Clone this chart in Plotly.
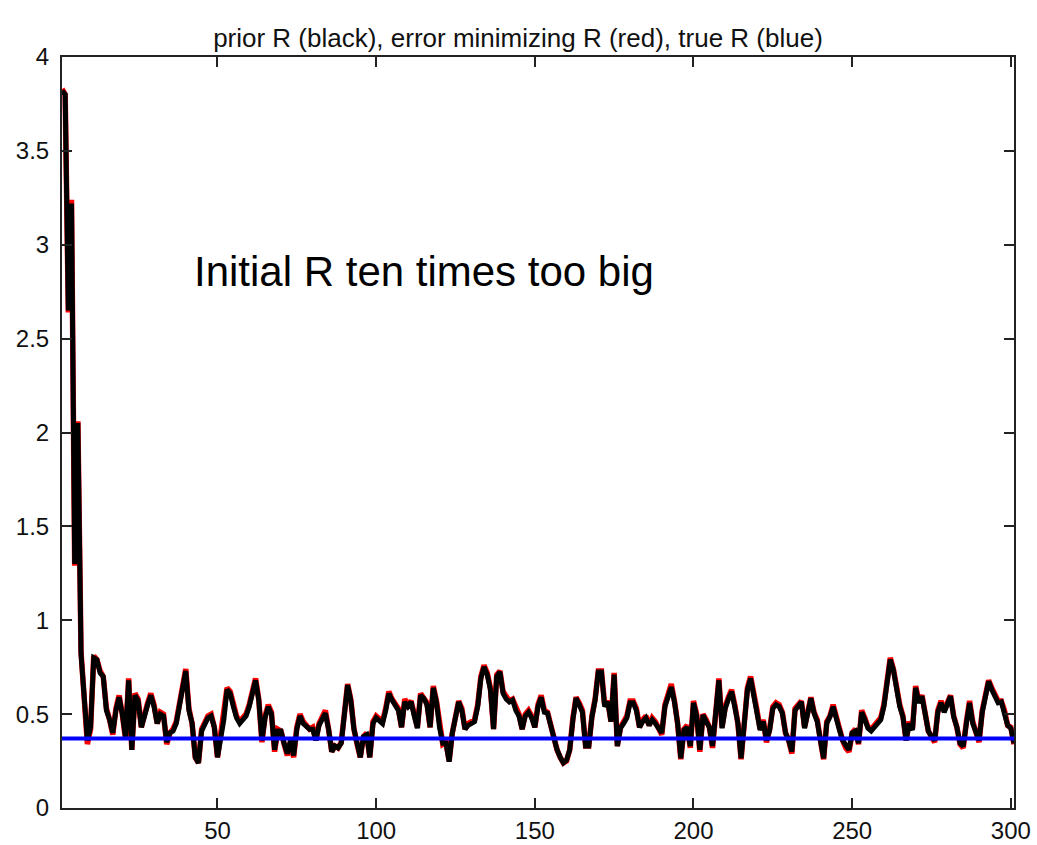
import plotly.graph_objects as go

# sample index
x_values = list(range(1, 302))

# prior R (black)
prior_R = [
    3.82, 3.80, 2.65, 3.22, 1.30, 2.05, 0.82, 0.54, 0.36, 0.43,
    0.80, 0.79, 0.72, 0.70, 0.52, 0.47, 0.40, 0.52, 0.59, 0.50,
    0.38, 0.68, 0.31, 0.60, 0.57, 0.43, 0.50, 0.55, 0.60, 0.54,
    0.45, 0.50, 0.49, 0.35, 0.40, 0.41, 0.45, 0.55, 0.64, 0.73,
    0.52, 0.45, 0.27, 0.24, 0.41, 0.45, 0.48, 0.49, 0.43, 0.27,
    0.38, 0.47, 0.63, 0.61, 0.54, 0.48, 0.45, 0.47, 0.49, 0.54,
    0.60, 0.68, 0.575, 0.36, 0.48, 0.54, 0.50, 0.31, 0.41, 0.41,
    0.345, 0.29, 0.36, 0.28, 0.42, 0.49, 0.45, 0.43, 0.42, 0.42,
    0.36, 0.44, 0.48, 0.505, 0.42, 0.30, 0.33, 0.32, 0.345, 0.505,
    0.655, 0.575, 0.42, 0.345, 0.27, 0.38, 0.39, 0.27, 0.45, 0.48,
    0.46, 0.45, 0.52, 0.61, 0.575, 0.55, 0.52, 0.43, 0.565, 0.54,
    0.565, 0.49, 0.425, 0.60, 0.585, 0.55, 0.43, 0.64, 0.565, 0.425,
    0.345, 0.345, 0.247, 0.40, 0.47, 0.565, 0.52, 0.42, 0.44, 0.45,
    0.46, 0.54, 0.69, 0.752, 0.71, 0.63, 0.42, 0.70, 0.725, 0.61,
    0.58, 0.565, 0.575, 0.52, 0.49, 0.42, 0.49, 0.51, 0.48, 0.43,
    0.54, 0.59, 0.51, 0.505, 0.44, 0.37, 0.31, 0.27, 0.24, 0.255,
    0.31, 0.47, 0.585, 0.55, 0.51, 0.33, 0.33, 0.485, 0.575, 0.725,
    0.725, 0.54, 0.565, 0.46, 0.71, 0.33, 0.425, 0.45, 0.48, 0.56,
    0.56, 0.52, 0.43, 0.46, 0.48, 0.44, 0.47, 0.45, 0.425, 0.40,
    0.54, 0.60, 0.645, 0.565, 0.45, 0.265, 0.415, 0.43, 0.33, 0.56,
    0.49, 0.31, 0.495, 0.46, 0.43, 0.33, 0.505, 0.68, 0.425, 0.53,
    0.58, 0.62, 0.54, 0.45, 0.265, 0.45, 0.63, 0.69, 0.585, 0.51,
    0.415, 0.46, 0.36, 0.415, 0.53, 0.55, 0.54, 0.505, 0.40, 0.36,
    0.30, 0.52, 0.54, 0.565, 0.425, 0.50, 0.585, 0.505, 0.46, 0.36,
    0.265, 0.45, 0.485, 0.54, 0.47, 0.415, 0.36, 0.33, 0.31, 0.40,
    0.41, 0.345, 0.51, 0.47, 0.425, 0.41, 0.43, 0.46, 0.47, 0.54,
    0.665, 0.79, 0.735, 0.63, 0.54, 0.485, 0.36, 0.45, 0.415, 0.64,
    0.56, 0.595, 0.505, 0.41, 0.38, 0.36, 0.51, 0.56, 0.51, 0.55,
    0.595, 0.485, 0.43, 0.345, 0.33, 0.45, 0.56, 0.45, 0.40, 0.36,
    0.51, 0.595, 0.675, 0.63, 0.59, 0.56, 0.565, 0.51, 0.44, 0.425,
    0.345,
]

# error minimizing R (red)
error_min_R = [
    3.83, 3.80, 2.64, 3.24, 1.29, 2.06, 0.83, 0.55, 0.34, 0.42,
    0.81, 0.79, 0.73, 0.70, 0.53, 0.47, 0.39, 0.53, 0.60, 0.50,
    0.37, 0.69, 0.31, 0.61, 0.58, 0.43, 0.51, 0.56, 0.61, 0.55,
    0.45, 0.51, 0.50, 0.34, 0.40, 0.42, 0.46, 0.56, 0.65, 0.74,
    0.53, 0.45, 0.27, 0.24, 0.42, 0.46, 0.49, 0.50, 0.43, 0.27,
    0.39, 0.48, 0.64, 0.62, 0.55, 0.49, 0.46, 0.48, 0.50, 0.55,
    0.61, 0.69, 0.58, 0.35, 0.49, 0.55, 0.51, 0.30, 0.42, 0.41,
    0.34, 0.28, 0.35, 0.27, 0.43, 0.50, 0.46, 0.44, 0.42, 0.43,
    0.36, 0.45, 0.49, 0.52, 0.42, 0.30, 0.33, 0.32, 0.35, 0.52,
    0.66, 0.58, 0.42, 0.34, 0.27, 0.38, 0.40, 0.27, 0.46, 0.49,
    0.47, 0.46, 0.53, 0.62, 0.58, 0.56, 0.53, 0.43, 0.58, 0.55,
    0.57, 0.50, 0.43, 0.61, 0.59, 0.56, 0.43, 0.65, 0.57, 0.43,
    0.34, 0.35, 0.25, 0.40, 0.48, 0.57, 0.53, 0.42, 0.45, 0.46,
    0.47, 0.55, 0.70, 0.76, 0.72, 0.64, 0.42, 0.71, 0.73, 0.62,
    0.59, 0.57, 0.58, 0.53, 0.50, 0.42, 0.50, 0.52, 0.49, 0.43,
    0.55, 0.60, 0.52, 0.51, 0.44, 0.37, 0.31, 0.27, 0.24, 0.25,
    0.31, 0.48, 0.59, 0.56, 0.52, 0.33, 0.33, 0.49, 0.58, 0.73,
    0.73, 0.55, 0.57, 0.46, 0.72, 0.33, 0.43, 0.46, 0.49, 0.57,
    0.57, 0.53, 0.43, 0.47, 0.49, 0.44, 0.48, 0.46, 0.43, 0.39,
    0.55, 0.61, 0.66, 0.57, 0.45, 0.26, 0.42, 0.44, 0.32, 0.57,
    0.50, 0.30, 0.50, 0.47, 0.43, 0.32, 0.51, 0.69, 0.43, 0.54,
    0.59, 0.63, 0.55, 0.45, 0.26, 0.46, 0.64, 0.70, 0.59, 0.52,
    0.42, 0.47, 0.35, 0.42, 0.54, 0.56, 0.55, 0.51, 0.40, 0.36,
    0.29, 0.53, 0.55, 0.57, 0.43, 0.51, 0.59, 0.51, 0.47, 0.36,
    0.26, 0.46, 0.49, 0.55, 0.48, 0.42, 0.36, 0.32, 0.30, 0.40,
    0.42, 0.34, 0.52, 0.48, 0.43, 0.42, 0.44, 0.47, 0.48, 0.55,
    0.67, 0.80, 0.74, 0.64, 0.55, 0.49, 0.36, 0.46, 0.42, 0.65,
    0.57, 0.60, 0.51, 0.41, 0.38, 0.35, 0.52, 0.57, 0.52, 0.56,
    0.60, 0.49, 0.43, 0.34, 0.32, 0.46, 0.57, 0.46, 0.40, 0.35,
    0.52, 0.60, 0.68, 0.64, 0.60, 0.57, 0.57, 0.52, 0.44, 0.43,
    0.34,
]

# true R (blue)
true_R = 0.37

x_tick_values = [50, 100, 150, 200, 250, 300]
y_tick_values = [0, 0.5, 1, 1.5, 2, 2.5, 3, 3.5, 4]
y_tick_labels = ["0", "0.5", "1", "1.5", "2", "2.5", "3", "3.5", "4"]

title_text = "prior R (black), error minimizing R (red), true R (blue)"
annotation_text = "Initial R ten times too big"

fig = go.Figure()
fig.add_trace(go.Scatter(x=x_values, y=error_min_R, mode="lines",
                         line=dict(color="#ff0000", width=5.5), name="error minimizing R"))
fig.add_trace(go.Scatter(x=x_values, y=prior_R, mode="lines",
                         line=dict(color="#000000", width=5), name="prior R"))
fig.add_trace(go.Scatter(x=[x_values[0], x_values[-1]], y=[true_R, true_R], mode="lines",
                         line=dict(color="#0000ff", width=4), name="true R"))

fig.add_annotation(x=115, y=2.86, text=annotation_text, showarrow=False,
                   font=dict(family="Liberation Sans, Arial, sans-serif", size=42, color="#000000"),
                   xanchor="center", yanchor="middle")

axis_font = dict(family="Liberation Sans, Arial, sans-serif", size=24, color="#111111")

fig.update_layout(
    width=1037, height=845,
    margin=dict(l=62, r=23, t=57, b=37, pad=0, autoexpand=False),
    paper_bgcolor="#ffffff", plot_bgcolor="#ffffff",
    showlegend=False,
    title=dict(text=title_text, x=0.4995, xanchor="center", y=0.955, yanchor="middle",
               font=dict(family="Liberation Sans, Arial, sans-serif", size=26, color="#111111")),
    xaxis=dict(range=[1, 301], tickvals=x_tick_values, ticks="inside", ticklen=10,
               tickwidth=2, tickcolor="#222222", showline=True, linewidth=2, linecolor="#222222",
               mirror="ticks", showgrid=False, zeroline=False, tickfont=axis_font,
               automargin=False),
    yaxis=dict(range=[0, 4], tickvals=y_tick_values, ticktext=y_tick_labels, ticks="inside",
               ticklen=10, tickwidth=2, tickcolor="#222222", showline=True, linewidth=2,
               linecolor="#222222", mirror="ticks", showgrid=False, zeroline=False,
               tickfont=axis_font, automargin=False, ticklabelstandoff=6),
)

fig.write_html("out.html")
